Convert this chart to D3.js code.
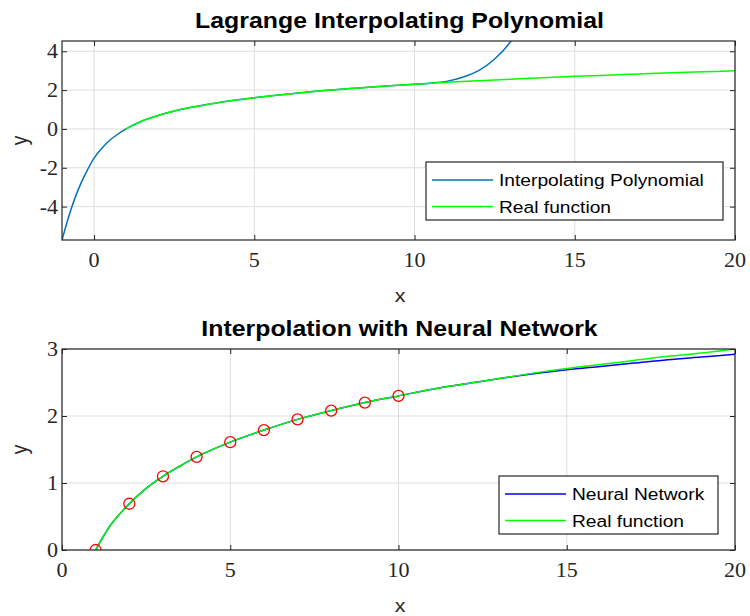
<!DOCTYPE html>
<html>
<head>
<meta charset="utf-8">
<script src="https://cdn.jsdelivr.net/npm/d3@7"></script>
<style>
  body { margin: 0; background: #fff; }
  .grid line { stroke: #dedede; stroke-width: 1; }
</style>
</head>
<body>
<div class="box"></div>
<script>
// Data
const polyX = [-1, -0.75, -0.5, -0.25, 0, 0.25, 0.5, 0.75, 1, 1.5, 2, 2.5, 3, 4, 5, 6, 7, 8, 9, 10, 10.5, 11, 11.5, 12, 12.5, 13, 13.25];
const polyY = [-5.72, -4.3, -3.15, -2.25, -1.5, -0.98, -0.57, -0.26, 0, 0.41, 0.69, 0.92, 1.10, 1.39, 1.61, 1.79, 1.95, 2.08, 2.20, 2.30, 2.36, 2.45, 2.66, 3.0, 3.6, 4.5, 5.2];

const realX = [1, 1.25, 1.5, 2, 2.5, 3, 3.5, 4, 5, 6, 7, 8, 9, 10, 11, 12, 13, 14, 15, 16, 17, 18, 19, 20];
const realY = [0, 0.22, 0.41, 0.69, 0.92, 1.10, 1.25, 1.39, 1.61, 1.79, 1.95, 2.08, 2.20, 2.30, 2.40, 2.48, 2.56, 2.64, 2.71, 2.77, 2.83, 2.89, 2.94, 3.00];

const nnX = [1, 1.25, 1.5, 2, 2.5, 3, 3.5, 4, 5, 6, 7, 8, 9, 10, 11, 12, 13, 14, 15, 16, 17, 18, 19, 20];
const nnY = [0, 0.22, 0.41, 0.69, 0.92, 1.10, 1.25, 1.39, 1.61, 1.79, 1.95, 2.08, 2.20, 2.30, 2.40, 2.48, 2.56, 2.63, 2.69, 2.74, 2.79, 2.84, 2.88, 2.92];

const nodeX = [1, 2, 3, 4, 5, 6, 7, 8, 9, 10];
const nodeY = [0, 0.69, 1.10, 1.39, 1.61, 1.79, 1.95, 2.08, 2.20, 2.30];

const topXTicks = [0, 5, 10, 15, 20];
const topYTicks = [-4, -2, 0, 2, 4];
const botXTicks = [0, 5, 10, 15, 20];
const botYTicks = [0, 1, 2, 3];

const sx = 1.13; // picture is stretched horizontally

const svg = d3.select('.box')
              .append('svg')
              .attr('width', 750)
              .attr('height', 616)
              .style('background', '#fff');

function txt(x, y, str, o) {
  return svg.append('text')
     .attr('transform', `translate(${x},${y}) scale(${o.sx || sx},1)` + (o.rot ? ` rotate(${o.rot})` : ''))
     .attr('text-anchor', o.anchor || 'start')
     .attr('font-family', o.family || 'Liberation Sans, Arial, sans-serif')
     .attr('font-size', o.size)
     .attr('font-weight', o.weight || 'normal')
     .attr('fill', o.fill || '#262626')
     .text(str);
}

function panel(cfg) {
  const x = d3.scaleLinear().domain(cfg.xDom).range([cfg.left, cfg.right]);
  const y = d3.scaleLinear().domain(cfg.yDom).range([cfg.bottom, cfg.top]);

  const clipId = 'clip' + cfg.id;
  svg.append('clipPath').attr('id', clipId)
     .append('rect')
     .attr('x', cfg.left).attr('y', cfg.top)
     .attr('width', cfg.right - cfg.left).attr('height', cfg.bottom - cfg.top);

  // grid
  const grid = svg.append('g').attr('class', 'grid');
  grid.selectAll('.gx').data(cfg.xTicks).enter().append('line')
      .attr('x1', d => x(d)).attr('x2', d => x(d))
      .attr('y1', cfg.top).attr('y2', cfg.bottom);
  grid.selectAll('.gy').data(cfg.yTicks).enter().append('line')
      .attr('y1', d => y(d)).attr('y2', d => y(d))
      .attr('x1', cfg.left).attr('x2', cfg.right);

  // lines
  const plot = svg.append('g').attr('clip-path', `url(#${clipId})`);
  const line = d3.line()
                 .x(d => x(d[0]))
                 .y(d => y(d[1]))
                 .curve(d3.curveCatmullRom.alpha(0.5));
  cfg.series.forEach(s => {
    plot.append('path')
        .attr('d', line(d3.zip(s.xs, s.ys)))
        .attr('fill', 'none')
        .attr('stroke', s.color)
        .attr('stroke-width', 1.5);
  });
  if (cfg.markers) {
    plot.selectAll('circle')
        .data(d3.zip(cfg.markers.xs, cfg.markers.ys))
        .enter().append('circle')
        .attr('cx', d => x(d[0]))
        .attr('cy', d => y(d[1]))
        .attr('r', 5.5)
        .attr('fill', 'none')
        .attr('stroke', '#ff0000')
        .attr('stroke-width', 1.3);
  }

  // axes, inward ticks on all sides
  const tl = 5;
  svg.append('g').attr('transform', `translate(0,${cfg.bottom})`)
     .call(d3.axisBottom(x).tickValues(cfg.xTicks).tickSize(-tl).tickFormat(''));
  svg.append('g').attr('transform', `translate(0,${cfg.top})`)
     .call(d3.axisTop(x).tickValues(cfg.xTicks).tickSize(-tl).tickFormat(''));
  svg.append('g').attr('transform', `translate(${cfg.left},0)`)
     .call(d3.axisLeft(y).tickValues(cfg.yTicks).tickSize(-tl).tickFormat(''));
  svg.append('g').attr('transform', `translate(${cfg.right},0)`)
     .call(d3.axisRight(y).tickValues(cfg.yTicks).tickSize(-tl).tickFormat(''));
  svg.selectAll('.domain').attr('stroke', 'none');
  svg.selectAll('.tick line').attr('stroke', '#262626');

  svg.append('rect')
     .attr('x', cfg.left).attr('y', cfg.top)
     .attr('width', cfg.right - cfg.left).attr('height', cfg.bottom - cfg.top)
     .attr('fill', 'none').attr('stroke', '#262626').attr('stroke-width', 1.2);

  // tick labels (serif, like the LaTeX look), plain hyphen minus
  const serif = 'Liberation Serif, Times New Roman, serif';
  cfg.xTicks.forEach(t => {
    txt(x(t), cfg.bottom + 27, String(t), {anchor: 'middle', family: serif, size: 21, sx: 1.05});
  });
  cfg.yTicks.forEach(t => {
    txt(cfg.left - 4, y(t) + 7, String(t), {anchor: 'end', family: serif, size: 21, sx: 1.05});
  });

  // title + axis labels
  txt((cfg.left + cfg.right) / 2 + 1, cfg.top - 13, cfg.title, {anchor: 'middle', size: 22, weight: 'bold', fill: '#000'});
  txt(400, cfg.bottom + 62, 'x', {anchor: 'middle', size: 19});
  txt(27, (cfg.top + cfg.bottom) / 2, 'y', {anchor: 'middle', size: 19, rot: -90});

  // legend
  const lg = cfg.legend;
  svg.append('rect')
     .attr('x', lg.x).attr('y', lg.y).attr('width', lg.w).attr('height', lg.h)
     .attr('fill', '#fff').attr('stroke', '#262626').attr('stroke-width', 1.2);
  cfg.series.forEach((s, i) => {
    const ry = lg.y + 18 + i * 26.5;
    svg.append('line')
       .attr('x1', lg.x + 6).attr('x2', lg.x + 67)
       .attr('y1', ry).attr('y2', ry)
       .attr('stroke', s.color).attr('stroke-width', 1.5);
    txt(lg.x + 73, ry + 6, s.name, {size: 17, fill: '#000'});
  });
}

panel({
  id: 'top',
  left: 62, right: 735, top: 41, bottom: 240,
  xDom: [-1, 20], yDom: [-5.72, 4.53],
  xTicks: topXTicks, yTicks: topYTicks,
  title: 'Lagrange Interpolating Polynomial',
  series: [
    {name: 'Interpolating Polynomial', xs: polyX, ys: polyY, color: '#0072bd'},
    {name: 'Real function', xs: realX, ys: realY, color: '#00ff00'}
  ],
  legend: {x: 426, y: 162, w: 297, h: 58}
});

panel({
  id: 'bot',
  left: 62, right: 735, top: 349, bottom: 550,
  xDom: [0, 20], yDom: [0, 3],
  xTicks: botXTicks, yTicks: botYTicks,
  title: 'Interpolation with Neural Network',
  series: [
    {name: 'Neural Network', xs: nnX, ys: nnY, color: '#0000ff'},
    {name: 'Real function', xs: realX, ys: realY, color: '#00ff00'}
  ],
  markers: {xs: nodeX, ys: nodeY},
  legend: {x: 499, y: 476, w: 219, h: 58}
});
</script>
</body>
</html>
